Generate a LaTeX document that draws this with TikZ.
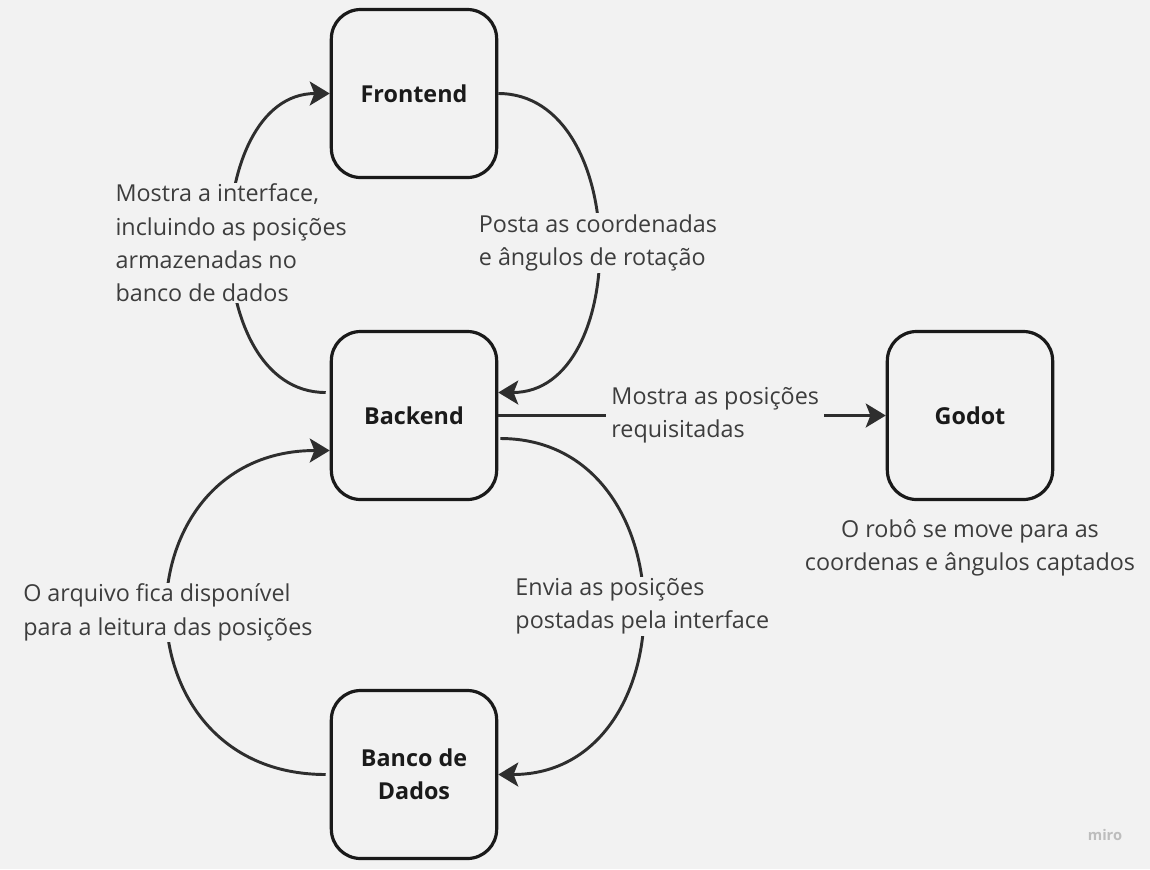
\documentclass[tikz,border=0pt]{standalone}
\usepackage{fontspec}
\setmainfont{Open Sans}
\usetikzlibrary{arrows.meta,calc}
\definecolor{bgcol}{HTML}{F2F2F2}
\definecolor{linecol}{HTML}{2E2E2E}
\definecolor{txtcol}{HTML}{3D3D3D}
\definecolor{boxcol}{HTML}{1A1A1A}
\definecolor{mirocol}{HTML}{BDBDBD}
\tikzset{every picture/.style={line width=0.75pt}}

\begin{document}
\begin{tikzpicture}[x=0.75pt,y=0.75pt,yscale=-1,xscale=1,
  block/.style={draw=boxcol,line width=2.4pt,rounded corners=22pt,minimum width=124pt,minimum height=126pt,font=\fontsize{17.5}{25}\selectfont\bfseries,text=boxcol,align=center},
  conn/.style={draw=linecol,line width=2.2pt,-{Stealth[length=15pt,width=18pt,inset=3.5pt]}},
  lbl/.style={fill=bgcol,text=txtcol,font=\fontsize{17.5}{25}\selectfont,align=left,inner xsep=4pt,inner ysep=1pt}]
%set diagram left start at 0, and has height of 869
\fill[bgcol] (0,0) rectangle (1150,869);
\useasboundingbox (0,0) rectangle (1150,869);

%Shape: Rounded Rect [id:frontend]
\node[block] (Frontend) at (414,93.5) {Frontend};
%Shape: Rounded Rect [id:backend]
\node[block] (Backend) at (414,415.5) {Backend};
%Shape: Rounded Rect [id:godot]
\node[block] (Godot) at (970,415.5) {Godot};
%Shape: Rounded Rect [id:banco]
\node[block] (Banco) at (414,774.5) {Banco de\\Dados};

%Connector ends
\coordinate (bkWestUp) at ($(Backend.west)+(-4,-23)$);
\coordinate (bkWestDown) at ($(Backend.west)+(0,35)$);
\coordinate (bkEastUp) at ($(Backend.east)+(0,-23)$);
\coordinate (bkEastDown) at ($(Backend.east)+(2,23)$);

%Curve Lines [id:backend-frontend]
\draw[conn] (bkWestUp) to[out=180,in=180,looseness=1.1] node[lbl] {Mostra a interface,\\incluindo as posições\\armazenadas no\\banco de dados} (Frontend.west);
%Curve Lines [id:frontend-backend]
\draw[conn] (Frontend.east) to[out=0,in=0,looseness=1.14] node[lbl] {Posta as coordenadas\\e ângulos de rotação} (bkEastUp);
%Straight Lines [id:backend-godot]
\draw[conn] (Backend.east) -- node[lbl,pos=0.56] {Mostra as posições\\requisitadas} (Godot.west);
%Curve Lines [id:backend-banco]
\draw[conn] (bkEastDown) to[out=0,in=0,looseness=1.45] node[lbl] {Envia as posições\\postadas pela interface} (Banco.east);
%Curve Lines [id:banco-backend]
\draw[conn] ($(Banco.west)+(-4,0)$) to[out=180,in=180,looseness=1.68] node[lbl] {O arquivo fica disponível\\para a leitura das posições} (bkWestDown);

% Text Node
\node[text=txtcol,font=\fontsize{17.5}{25}\selectfont,align=center] (GodotNote) at (970,548) {O robô se move para as\\coordenas e ângulos captados};
% Text Node
\node[text=mirocol,font=\fontsize{11}{13}\selectfont\bfseries] (miro) at (1105,835) {miro};

\end{tikzpicture}
\end{document}
